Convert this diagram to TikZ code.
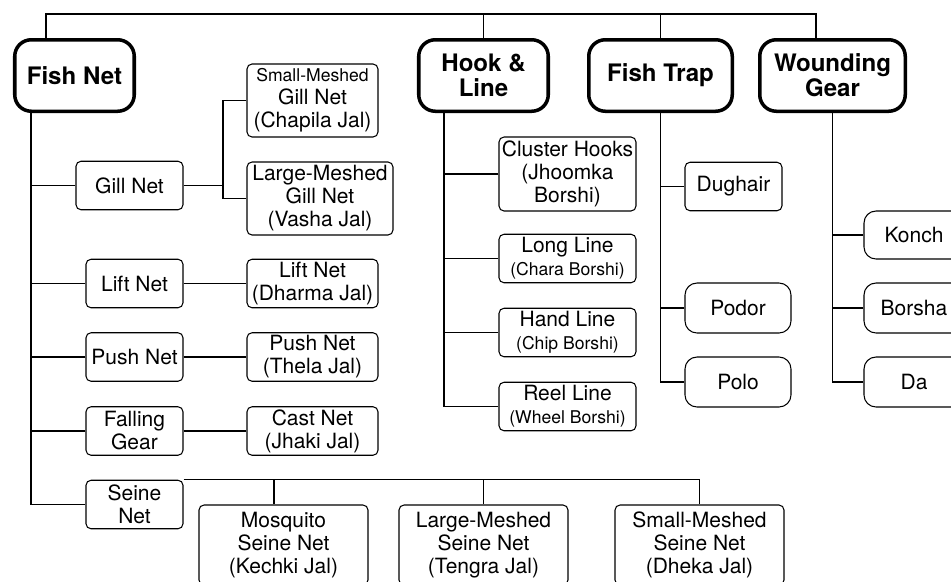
\documentclass[tikz,border=0pt]{standalone}
\usepackage{fontspec}
\setmainfont{TeX Gyre Heros}
\newcommand*{\hdfont}{\fontsize{13.7}{14.2}\selectfont\bfseries}
\newcommand*{\lffont}{\fontsize{11.95}{13.1}\selectfont}
\newcommand*{\smfont}{\fontsize{10}{11}\selectfont}
\tikzset{%
  head/.style={draw, rectangle, line width=2pt, rounded corners=0.33cm, align=center,
    inner sep=0pt, minimum height=1.43cm, font=\hdfont},% gear groups
  leaf/.style={draw, rectangle, line width=0.6pt, rounded corners=0.1cm, align=center,
    inner sep=0pt, minimum height=0.97cm, font=\lffont},% gear types
  roundleaf/.style={leaf, rounded corners=0.24cm, minimum height=1cm},
  seinebox/.style={leaf, minimum width=3.38cm, minimum height=1.6cm},
  link/.style={line width=0.6pt}
}

\begin{document}
\begin{tikzpicture}
\useasboundingbox (0,0) rectangle (19.02,-11.62);

\node[head, minimum width=2.39cm] (fishnet) at (1.49, -1.51) {Fish Net};
\node[head, minimum width=2.59cm] (hookline) at (9.67, -1.51) {Hook \&\\Line};
\node[head, minimum width=2.87cm] (fishtrap) at (13.21, -1.51) {Fish Trap};
\node[head, minimum width=2.91cm] (wound) at (16.65, -1.51) {Wounding\\Gear};

% fish net
\node[leaf, minimum width=2.14cm] (gill) at (2.59, -3.71) {Gill Net};
\node[leaf, minimum width=1.94cm] (lift) at (2.69, -5.67) {Lift Net};
\node[leaf, minimum width=1.94cm] (push) at (2.69, -7.14) {Push Net};
\node[leaf, minimum width=1.94cm] (falling) at (2.69, -8.62) {Falling\\Gear};
\node[leaf, minimum width=1.94cm] (seine) at (2.69, -10.09) {Seine\\Net};

\node[leaf, minimum width=2.62cm, minimum height=1.46cm] (smallgill) at (6.25, -2.01)
  {{\smfont Small-Meshed}\\Gill Net\\(Chapila Jal)};
\node[leaf, minimum width=2.92cm, minimum height=1.46cm] (largegill) at (6.40, -3.97)
  {Large-Meshed\\Gill Net\\(Vasha Jal)};
\node[leaf, minimum width=2.62cm] (dharma) at (6.25, -5.67) {Lift Net\\(Dharma Jal)};
\node[leaf, minimum width=2.62cm] (thela) at (6.25, -7.14) {Push Net\\(Thela Jal)};
\node[leaf, minimum width=2.62cm] (jhaki) at (6.25, -8.62) {Cast Net\\(Jhaki Jal)};

\node[seinebox] (mosquito) at (5.67, -10.9) {Mosquito\\Seine Net\\(Kechki Jal)};
\node[seinebox] (tengra) at (9.67, -10.9) {Large-Meshed\\Seine Net\\(Tengra Jal)};
\node[seinebox] (dheka) at (13.99, -10.9) {Small-Meshed\\Seine Net\\(Dheka Jal)};

% hook & line
\node[leaf, minimum width=2.74cm, minimum height=1.48cm] (cluster) at (11.35, -3.48)
  {Cluster Hooks\\(Jhoomka\\Borshi)};
\node[leaf, minimum width=2.74cm] (longline) at (11.35, -5.17) {Long Line\\{\smfont (Chara Borshi)}};
\node[leaf, minimum width=2.74cm] (handline) at (11.35, -6.65) {Hand Line\\{\smfont (Chip Borshi)}};
\node[leaf, minimum width=2.74cm] (reelline) at (11.35, -8.13) {Reel Line\\{\smfont (Wheel Borshi)}};

% fish trap
\node[leaf, minimum width=1.94cm] (dughair) at (14.67, -3.73) {Dughair};
\node[roundleaf, minimum width=2.12cm] (podor) at (14.76, -6.16) {Podor};
\node[roundleaf, minimum width=2.12cm] (polo) at (14.76, -7.64) {Polo};

% wounding gear
\node[roundleaf, minimum width=2cm, minimum height=0.96cm] (konch) at (18.28, -4.70) {Konch};
\node[roundleaf, minimum width=2cm] (borsha) at (18.28, -6.16) {Borsha};
\node[roundleaf, minimum width=2cm] (da) at (18.28, -7.64) {Da};

% tree lines
\coordinate (root) at (9.67, -0.28);
\draw[link] ([xshift=-0.57cm]fishnet.north) |- (root) -| ([xshift=-0.33cm]wound.north);
\draw[link] (hookline.north) -- (root);
\draw[link] (fishtrap.north) -- (fishtrap.north |- root);

\coordinate (fntrunk) at ([xshift=-0.87cm]fishnet.south);
\draw[link] (fntrunk) |- (seine.west);
\foreach \n in {gill, lift, push, falling}
  \draw[link] (\n.west) -- (\n.west -| fntrunk);

\coordinate (gillfork) at (4.46, -3.71);
\draw[link] (gill) -- (gillfork);
\draw[link] (smallgill.west) -| (gillfork) |- (largegill.west);
\draw[link] (lift) -- (dharma);
\draw[link] (push) -- (thela);
\draw[link] (falling) -- (jhaki);

\draw[link] (seine.north east) -| (dheka.north);
\draw[link] ([xshift=-0.19cm]mosquito.north) |- (seine.north east);
\draw[link] (tengra.north) |- (seine.north east);

\coordinate (hltrunk) at ([xshift=-0.79cm]hookline.south);
\draw[link] (hltrunk) |- (reelline.west);
\foreach \n in {cluster, longline, handline}
  \draw[link] (\n.west) -- (\n.west -| hltrunk);

\draw[link] (fishtrap.south) |- (polo.west);
\foreach \n in {dughair, podor}
  \draw[link] (\n.west) -- (\n.west -| fishtrap.south);

\draw[link] (wound.south) |- (da.west);
\foreach \n in {konch, borsha}
  \draw[link] (\n.west) -- (\n.west -| wound.south);

\end{tikzpicture}
\end{document}
